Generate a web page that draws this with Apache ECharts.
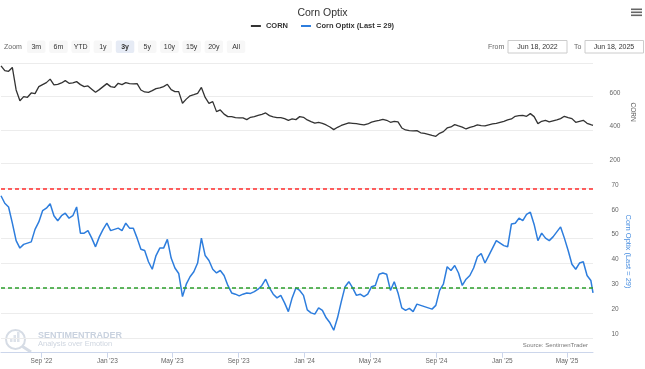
<!DOCTYPE html>
<html><head><meta charset="utf-8">
<script src="https://cdn.jsdelivr.net/npm/echarts@6/dist/echarts.min.js"></script>
<style>html,body{margin:0;padding:0;background:#fff}#c{width:645px;height:369px}</style>
</head><body><div id="c"></div>
<script>
const FONT = '"Liberation Sans", Arial, sans-serif';

// CORN (weekly readings from 2022-06-18, last point 2025-06-18)
const cornValues = [
  785, 756, 752, 775, 640, 575, 600, 596, 622, 618,
  660, 672, 684, 705, 670, 673, 682, 696, 680, 682,
  690, 672, 660, 664, 645, 626, 642, 660, 678, 660,
  655, 680, 672, 684, 678, 676, 678, 640, 628, 626,
  636, 648, 652, 660, 674, 642, 630, 630, 560, 585,
  605, 612, 620, 655, 595, 560, 570, 510, 520, 495,
  480, 480, 474, 472, 472, 462, 476, 480, 488, 494,
  502, 486, 478, 474, 474, 468, 458, 466, 462, 480,
  476, 460, 450, 441, 446, 440, 430, 418, 402, 416,
  427, 435, 442, 440, 438, 434, 430, 436, 447, 453,
  458, 464, 458, 446, 452, 448, 412, 400, 396, 394,
  396, 383, 380, 374, 367, 362, 380, 390, 412, 418,
  432, 424, 417, 406, 416, 422, 430, 426, 424, 430,
  436, 440, 446, 452, 460, 466, 482, 486, 488, 482,
  498, 480, 438, 452, 458, 448, 454, 460, 468, 482,
  474, 468, 446, 452, 458, 440, 432,
  428
];

// Corn Optix (same dates)
const optixValues = [
  67, 64, 62.5, 56, 49, 46, 47.5, 48, 48.5, 53.5,
  56.5, 61, 62, 63.8, 59, 57, 59, 60, 58, 59,
  62.5, 52, 52, 53, 50, 46.5, 50.5, 53.5, 56, 53,
  53.5, 54, 53, 56, 54, 54, 50, 45.5, 45, 40.5,
  37.5, 43, 46, 46, 49.5, 42, 38, 35.8, 26.5, 31.5,
  34.5, 36.5, 40, 50, 43, 41, 37.5, 36, 37, 35,
  31, 28, 27.5, 26.8, 27.5, 28, 27.8, 28.5, 29.5, 31,
  33.5, 30, 27.5, 26, 27, 24, 20.5, 26, 30, 29,
  27, 21.2, 20, 19.5, 22, 21, 18, 16, 13, 18,
  24.5, 30.5, 32.5, 30, 27, 27.5, 26.5, 27.5, 30.5, 31,
  35.5, 36, 35.5, 29, 32.5, 28, 22, 21, 21.8, 20.5,
  23.5, 23, 22.5, 22, 21.5, 23, 29, 31.5, 38.5, 37,
  39, 36, 31, 33.5, 35, 38, 42.5, 43.8, 40, 43,
  46, 49, 48, 47, 46.5, 55.7, 56, 58, 57, 59.5,
  60.4, 55.5, 49, 52, 50, 49, 50.5, 52.5, 54.5, 50,
  45, 39.5, 37.5, 40, 40.5, 35, 33,
  28
];

const startDate = Date.UTC(2022, 5, 18);
const endDate = Date.UTC(2025, 5, 18);
const dates = [];
for (let k = 0; k < cornValues.length - 1; k++) dates.push(startDate + 7 * k * 86400000);
dates.push(endDate);

const xTickDates = [Date.UTC(2022,8,1), Date.UTC(2023,0,1), Date.UTC(2023,4,1), Date.UTC(2023,8,1),
  Date.UTC(2024,0,1), Date.UTC(2024,4,1), Date.UTC(2024,8,1), Date.UTC(2025,0,1), Date.UTC(2025,4,1)];
const xTickLabels = ["Sep '22", "Jan '23", "May '23", "Sep '23", "Jan '24", "May '24", "Sep '24", "Jan '25", "May '25"];
const upperLevel = 70;
const lowerLevel = 30;
const zoomButtons = ['3m', '6m', 'YTD', '1y', '3y', '5y', '10y', '15y', '20y', 'All'];
const selectedButton = '3y';
const fromText = 'Jun 18, 2022';
const toText = 'Jun 18, 2025';

const chart = echarts.init(document.getElementById('c'), null, {renderer: 'canvas'});

const graphic = [];
[8.5, 11.5, 14.5].forEach(y => graphic.push({type: 'rect', shape: {x: 631, y: y, width: 11, height: 1.6}, style: {fill: '#666'}}));
graphic.push({type: 'text', x: 4, y: 46.7, style: {text: 'Zoom', font: '7px ' + FONT, fill: '#666', verticalAlign: 'middle'}});
zoomButtons.forEach((b, i) => {
  const x = 27 + i * 22.2;
  const sel = b === selectedButton;
  graphic.push({type: 'rect', shape: {x: x, y: 40.5, width: 18.5, height: 12.5, r: 2}, style: {fill: sel ? '#e6ebf5' : '#f7f7f7'}});
  graphic.push({type: 'text', x: x + 9.25, y: 46.8, style: {text: b, font: (sel ? 'bold ' : '') + '7px ' + FONT, fill: '#333', align: 'center', verticalAlign: 'middle'}});
});
graphic.push({type: 'text', x: 488, y: 46.7, style: {text: 'From', font: '7px ' + FONT, fill: '#666', verticalAlign: 'middle'}});
graphic.push({type: 'rect', shape: {x: 508, y: 40.5, width: 59, height: 12.5}, style: {fill: '#fff', stroke: '#cccccc', lineWidth: 1}});
graphic.push({type: 'text', x: 537.5, y: 46.8, style: {text: fromText, font: '7px ' + FONT, fill: '#333', align: 'center', verticalAlign: 'middle'}});
graphic.push({type: 'text', x: 574, y: 46.7, style: {text: 'To', font: '7px ' + FONT, fill: '#666', verticalAlign: 'middle'}});
graphic.push({type: 'rect', shape: {x: 585, y: 40.5, width: 58.5, height: 12.5}, style: {fill: '#fff', stroke: '#cccccc', lineWidth: 1}});
graphic.push({type: 'text', x: 614, y: 46.8, style: {text: toText, font: '7px ' + FONT, fill: '#333', align: 'center', verticalAlign: 'middle'}});
graphic.push({type: 'text', x: 632.5, y: 112, rotation: -Math.PI / 2, style: {text: 'CORN', font: '6.5px ' + FONT, fill: '#666', align: 'center', verticalAlign: 'middle'}});
graphic.push({type: 'text', x: 628.5, y: 251.5, rotation: -Math.PI / 2, style: {text: 'Corn Optix (Last = 29)', font: '7.5px ' + FONT, fill: '#4a8fe0', align: 'center', verticalAlign: 'middle'}});
graphic.push({type: 'circle', shape: {cx: 15.5, cy: 339.5, r: 9.5}, style: {fill: 'none', stroke: '#d6dce5', lineWidth: 2}});
graphic.push({type: 'line', shape: {x1: 22.5, y1: 346.5, x2: 31, y2: 352}, style: {stroke: '#d6dce5', lineWidth: 3}});
[[10, 338, 6], [13.5, 335, 9], [17, 332, 12]].forEach(b => graphic.push({type: 'rect', shape: {x: b[0], y: b[1], width: 2.5, height: b[2] - 2}, style: {fill: '#dde2ea'}}));
graphic.push({type: 'text', x: 38, y: 335.5, style: {text: 'SENTIMENTRADER', font: 'bold 9px ' + FONT, fill: '#c9d2df', verticalAlign: 'middle'}});
graphic.push({type: 'text', x: 38, y: 343.5, style: {text: 'Analysis over Emotion', font: '7.5px ' + FONT, fill: '#cfd6e0', verticalAlign: 'middle'}});
graphic.push({type: 'text', x: 588, y: 345, style: {text: 'Source: SentimenTrader', font: '6px ' + FONT, fill: '#777', align: 'right', verticalAlign: 'middle'}});

const option = {
  animation: false,
  textStyle: {fontFamily: FONT},
  title: {text: 'Corn Optix', left: 'center', top: 3, textStyle: {fontSize: 10.5, fontWeight: 'normal', color: '#333', fontFamily: FONT}},
  legend: {
    top: 17, left: 'center', icon: 'rect', itemWidth: 10, itemHeight: 2, itemGap: 13,
    textStyle: {fontSize: 7.5, fontWeight: 'bold', color: '#333', fontFamily: FONT},
    data: ['CORN', 'Corn Optix (Last = 29)']
  },
  grid: [
    {left: 1, right: 52, top: 63.3, height: 100},
    {left: 1, right: 52, top: 188.3, bottom: 16.3}
  ],
  xAxis: [
    {type: 'value', gridIndex: 0, min: startDate, max: endDate, show: false, splitLine: {show: false}},
    {type: 'value', gridIndex: 1, min: startDate, max: endDate,
      axisLine: {lineStyle: {color: '#ccd6eb'}},
      axisTick: {customValues: xTickDates, length: 5, lineStyle: {color: '#ccd6eb'}},
      axisLabel: {customValues: xTickDates, color: '#666', fontSize: 6.5, margin: 5,
        formatter: v => { const i = xTickDates.indexOf(v); return i >= 0 ? xTickLabels[i] : ''; }},
      splitLine: {show: false}}
  ],
  yAxis: [
    {type: 'value', gridIndex: 0, position: 'right', min: 200, max: 800, interval: 200,
      axisLine: {show: false}, axisTick: {show: false},
      axisLabel: {color: '#666', fontSize: 6.5, align: 'center', margin: 22, verticalAlign: 'bottom', showMaxLabel: false},
      splitLine: {lineStyle: {color: '#ececec', width: 1}}},
    {type: 'value', gridIndex: 1, position: 'right', min: 4, max: 70, splitNumber: 7, minInterval: 10, maxInterval: 10,
      axisLine: {show: false}, axisTick: {show: false},
      axisLabel: {color: '#666', fontSize: 6.5, align: 'center', margin: 22, verticalAlign: 'bottom', showMinLabel: false},
      splitLine: {lineStyle: {color: '#ececec', width: 1}}}
  ],
  series: [
    {name: 'CORN', type: 'line', xAxisIndex: 0, yAxisIndex: 0, showSymbol: false, symbol: 'none',
      data: dates.map((d, i) => [d, cornValues[i]]),
      lineStyle: {color: '#333', width: 1.3}, itemStyle: {color: '#333'}},
    {name: 'Corn Optix (Last = 29)', type: 'line', xAxisIndex: 1, yAxisIndex: 1, showSymbol: false, symbol: 'none',
      data: dates.map((d, i) => [d, optixValues[i]]),
      lineStyle: {color: '#2d7ddd', width: 1.5}, itemStyle: {color: '#2d7ddd'},
      markLine: {silent: true, symbol: ['none', 'none'], label: {show: false},
        data: [
          {yAxis: upperLevel, lineStyle: {color: '#ff2d2d', type: [4, 3], width: 1.5}},
          {yAxis: lowerLevel, lineStyle: {color: '#2b9e2b', type: [4, 3], width: 1.5}}
        ]}}
  ],
  graphic: graphic
};
chart.setOption(option);
</script></body></html>
